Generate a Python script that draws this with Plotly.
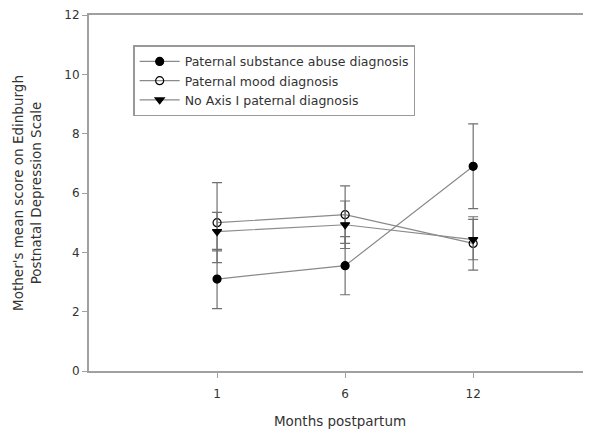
import plotly.graph_objects as go

months = ["1", "6", "12"]
series_names = ["Paternal substance abuse diagnosis", "Paternal mood diagnosis", "No Axis I paternal diagnosis"]
substance_mean = [3.1, 3.55, 6.9]
substance_err = [1.0, 0.98, 1.43]
mood_mean = [5.0, 5.27, 4.3]
mood_err = [1.35, 0.97, 0.9]
noaxis_mean = [4.7, 4.93, 4.43]
noaxis_err = [0.65, 0.8, 0.68]

symbols = ["circle", "circle-open", "triangle-down"]
means = [substance_mean, mood_mean, noaxis_mean]
errs = [substance_err, mood_err, noaxis_err]

fig = go.Figure()
for name, m, e, s in zip(series_names, means, errs, symbols):
    fig.add_trace(go.Scatter(
        x=months, y=m, name=name, mode="lines+markers",
        line=dict(color="#8a8a8a", width=1.2),
        marker=dict(symbol=s, size=8, color="black",
                    line=dict(color="black", width=1.2)),
        error_y=dict(type="data", array=e, visible=True, color="#707070",
                     thickness=1.2, width=5),
    ))

wide = "DejaVu Sans, sans-serif"
fig.update_layout(
    width=583, height=421,
    margin=dict(l=81, r=0, t=7, b=58, autoexpand=False),
    paper_bgcolor="white", plot_bgcolor="white",
    font=dict(family=wide, size=12, color="#333333"),
    showlegend=True,
    legend=dict(x=0.088, y=0.915, xanchor="left", yanchor="top",
                bordercolor="#999999", borderwidth=1.5, bgcolor="white",
                font=dict(family=wide, size=12.5, color="#333333"), tracegroupgap=0,
                itemwidth=40),
    xaxis=dict(type="category", categoryorder="array", categoryarray=months,
               range=[-1, 2.92], showgrid=False, zeroline=False,
               showline=True, linecolor="#a0a0a0", linewidth=2, mirror=True,
               ticks="outside", ticklen=5, tickcolor="#a0a0a0",
               ticklabelstandoff=6, automargin=False,
               tickfont=dict(family=wide, size=12, color="#333333"),
               title=dict(text="Months postpartum", standoff=19,
                          font=dict(family=wide, size=13.5, color="#333333"))),
    yaxis=dict(range=[0, 12], tickvals=[0, 2, 4, 6, 8, 10, 12],
               showgrid=False, zeroline=False, automargin=False,
               showline=True, linecolor="#a0a0a0", linewidth=2,
               ticks="outside", ticklen=5, tickcolor="#a0a0a0",
               tickfont=dict(family=wide, size=12, color="#333333"),
               title=dict(text="Mother's mean score on Edinburgh<br>Postnatal Depression Scale",
                          standoff=20, font=dict(family=wide, size=13.5, color="#333333"))),
)

fig.write_html("out.html")
